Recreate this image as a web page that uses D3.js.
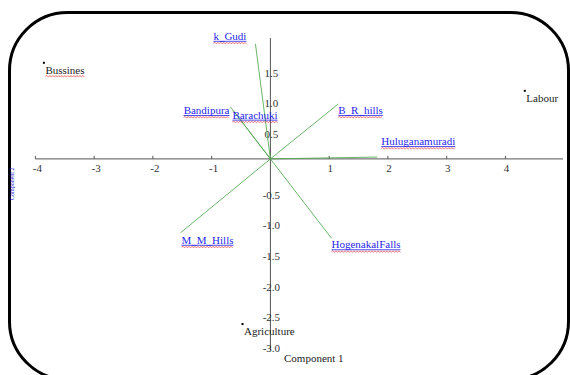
<!DOCTYPE html>
<html lang="en">
<head>
  <meta charset="UTF-8">
  <title>Biplot: Component 1 vs Component 2</title>
  <script src="https://d3js.org/d3.v7.min.js"></script>
  <style>
    body {
      margin: 0;
      background: #fff;
    }
    svg text {
      font-family: "Liberation Serif", "DejaVu Serif", serif;
      font-size: 11px;
    }
  </style>
</head>
<body>
  <svg id="chart" width="570" height="375" font-family="Liberation Serif"></svg>

  <script>
    // observations (black dots)
    const pointNames = ["Bussines", "Labour", "Agriculture"];
    const pointX = [-3.855, 4.33, -0.475];
    const pointY = [1.574, 1.115, -2.705];

    // variable loadings (green vectors)
    const loadNames = ["k_Gudi", "Bandipura", "Barachuki", "B_R_hills", "Huluganamuradi", "M_M_Hills", "HogenakalFalls"];
    const loadX = [-0.255, -0.68, -0.63, 1.155, 1.82, -1.53, 1.04];
    const loadY = [1.885, 0.85, 0.79, 0.90, 0.03, -1.21, -1.30];

    const xTicks = [-4, -3, -2, -1, 1, 2, 3, 4];
    const yTicks = [1.5, 1.0, 0.5, -0.5, -1.0, -1.5, -2.0, -2.5, -3.0];

    const svg = d3.select("#chart");

    const x = d3.scaleLinear().domain([-4.0, 4.98]).range([35.4, 563]);
    const y = d3.scaleLinear().domain([-3.13, 1.98]).range([350, 38]);

    // frame with rounded corners (bottom edge runs off the picture)
    svg.append("rect")
      .attr("x", 9.5).attr("y", 12.5)
      .attr("width", 559).attr("height", 367)
      .attr("rx", 58).attr("ry", 58)
      .attr("fill", "none")
      .attr("stroke", "#000")
      .attr("stroke-width", 3);

    const axisColor = "#555";

    // x axis line + ticks
    svg.append("line")
      .attr("x1", x(-4.0)).attr("x2", x(4.98))
      .attr("y1", y(0)).attr("y2", y(0))
      .attr("stroke", axisColor);

    svg.selectAll(".xtick")
      .data(xTicks)
      .enter().append("line")
      .attr("x1", d => x(d)).attr("x2", d => x(d))
      .attr("y1", y(0) - 3).attr("y2", y(0))
      .attr("stroke", axisColor);

    svg.selectAll(".xlabel")
      .data(xTicks)
      .enter().append("text")
      .attr("x", d => x(d) + (d < 0 ? 2 : 1))
      .attr("y", y(0) + 13)
      .attr("text-anchor", "middle")
      .attr("fill", "#333")
      .text(d => d);

    // y axis line + labels (drawn over the axis like the original)
    svg.append("line")
      .attr("x1", x(0)).attr("x2", x(0))
      .attr("y1", y(1.98)).attr("y2", y(-3.13))
      .attr("stroke", axisColor);

    svg.selectAll(".ylabel")
      .data(yTicks)
      .enter().append("text")
      .attr("x", x(0) + 1)
      .attr("y", d => y(d) + 9.5)
      .attr("text-anchor", "middle")
      .attr("fill", "#333")
      .text(d => d.toFixed(1));

    // loading vectors
    const origin = [x(0), y(0)];
    const loads = loadNames.map((n, i) => ({ name: n, x: loadX[i], y: loadY[i] }));

    svg.selectAll(".vec")
      .data(loads)
      .enter().append("line")
      .attr("x1", origin[0]).attr("y1", origin[1])
      .attr("x2", d => x(d.x)).attr("y2", d => y(d.y))
      .attr("stroke", "#4fa84f")
      .attr("stroke-opacity", 0.85)
      .attr("stroke-width", 1);

    // label placement around the end of each vector
    const labelPlace = {
      "k_Gudi":         { anchor: "end",   dx: -9, dy: -4 },
      "Bandipura":      { anchor: "end",   dx: -1, dy: 7 },
      "Barachuki":      { anchor: "start", dx: -1, dy: 8 },
      "B_R_hills":      { anchor: "start", dx: 0,  dy: 10 },
      "Huluganamuradi": { anchor: "start", dx: 4,  dy: -12 },
      "M_M_Hills":      { anchor: "start", dx: 1,  dy: 11 },
      "HogenakalFalls": { anchor: "start", dx: 0,  dy: 10 }
    };

    // wavy spell-check underline
    const wave = (x0, x1, yy) => {
      let p = `M${x0},${yy}`;
      let up = true;
      for (let xx = x0 + 1.5; xx <= x1; xx += 1.5) {
        p += `L${xx},${yy + (up ? -0.8 : 0.8)}`;
        up = !up;
      }
      return p;
    };

    loads.forEach(d => {
      const pl = labelPlace[d.name];
      const t = svg.append("text")
        .attr("x", x(d.x) + pl.dx)
        .attr("y", y(d.y) + pl.dy)
        .attr("text-anchor", pl.anchor)
        .attr("fill", "#1f1fef")
        .text(d.name);
      const bb = t.node().getBBox();
      const by = y(d.y) + pl.dy;
      svg.append("line")
        .attr("x1", bb.x).attr("x2", bb.x + bb.width)
        .attr("y1", by + 1.5).attr("y2", by + 1.5)
        .attr("stroke", "#1f1fef").attr("stroke-width", 0.8);
      svg.append("path")
        .attr("d", wave(bb.x, bb.x + bb.width, by + 3.3))
        .attr("fill", "none")
        .attr("stroke", "#e43a3a").attr("stroke-width", 0.7);
    });

    // observation points
    const points = pointNames.map((n, i) => ({ name: n, x: pointX[i], y: pointY[i] }));

    svg.selectAll(".pt")
      .data(points)
      .enter().append("rect")
      .attr("x", d => x(d.x) - 1).attr("y", d => y(d.y) - 1)
      .attr("width", 2).attr("height", 2)
      .attr("fill", "#000");

    points.forEach(d => {
      const t = svg.append("text")
        .attr("x", x(d.x) + 1.5)
        .attr("y", y(d.y) + 11)
        .attr("fill", "#222")
        .text(d.name);
      if (d.name === "Bussines") {
        const bb = t.node().getBBox();
        svg.append("path")
          .attr("d", wave(bb.x, bb.x + bb.width, y(d.y) + 13.5))
          .attr("fill", "none")
          .attr("stroke", "#e43a3a").attr("stroke-width", 0.7);
      }
    });

    // axis titles
    svg.append("text")
      .attr("x", 284).attr("y", 362)
      .attr("fill", "#222")
      .text("Component 1");

    svg.append("text")
      .attr("transform", "translate(14,200) rotate(-90)")
      .attr("fill", "#2a2ad8")
      .style("font-size", "6px")
      .text("Component 2");
  </script>
</body>
</html>
